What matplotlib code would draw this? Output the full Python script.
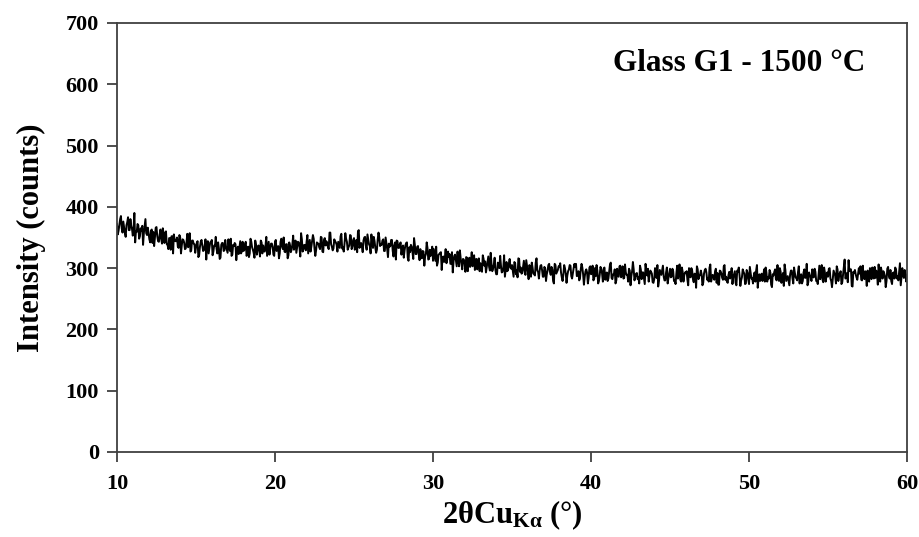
import numpy as np
import matplotlib
matplotlib.use("Agg")
import matplotlib.pyplot as plt

# 2-theta grid: whole tenths and the half steps between them
two_theta_a = np.round(np.arange(10.0, 60.05, 0.1), 2)
two_theta_b = np.round(np.arange(10.05, 60.0, 0.1), 2)

# counts at 10.0, 10.1, ... 60.0 (one row per degree)
counts_a = [
    372, 361, 380, 365, 376, 357, 370, 383, 362, 369,
    353, 390, 360, 372, 348, 365, 369, 357, 380, 354,
    356, 342, 363, 359, 350, 367, 344, 355, 347, 365,
    341, 360, 338, 349, 330, 352, 355, 344, 350, 333,
    350, 337, 346, 331, 342, 334, 357, 329, 345, 339,
    334, 344, 321, 343, 337, 329, 347, 340, 324, 342,
    346, 327, 336, 332, 342, 315, 338, 341, 329, 335,
    325, 334, 348, 322, 336, 339, 329, 323, 344, 327,
    328, 339, 320, 335, 324, 343, 330, 317, 338, 331,
    331, 345, 324, 328, 337, 320, 343, 332, 340, 322,
    343, 328, 336, 324, 348, 331, 327, 339, 316, 342,
    326, 339, 330, 345, 334, 342, 319, 347, 331, 337,
    343, 324, 346, 335, 354, 332, 329, 340, 334, 351,
    327, 346, 337, 341, 331, 358, 335, 332, 344, 338,
    343, 333, 356, 334, 340, 348, 330, 337, 353, 335,
    349, 340, 326, 362, 338, 335, 345, 351, 330, 347,
    336, 355, 333, 344, 325, 347, 350, 339, 345, 328,
    350, 331, 340, 336, 346, 319, 342, 345, 333, 339,
    322, 337, 329, 341, 317, 334, 338, 326, 349, 323,
    335, 322, 331, 316, 327, 319, 342, 314, 330, 324,
    312, 321, 335, 309, 323, 326, 316, 310, 331, 314,
    318, 307, 326, 311, 322, 303, 316, 329, 308, 315,
    308, 318, 295, 317, 311, 303, 321, 314, 298, 316,
    308, 294, 315, 311, 302, 319, 296, 307, 299, 317,
    290, 309, 300, 304, 294, 321, 298, 295, 307, 301,
    305, 286, 308, 297, 316, 294, 291, 302, 296, 313,
    294, 305, 286, 301, 290, 309, 296, 283, 304, 297,
    286, 299, 290, 305, 294, 302, 279, 307, 291, 297,
    302, 293, 279, 305, 291, 288, 298, 304, 283, 300,
    302, 287, 295, 283, 307, 290, 286, 298, 275, 301,
    290, 304, 283, 287, 296, 279, 302, 291, 299, 281,
    293, 283, 306, 284, 290, 298, 280, 287, 303, 285,
    303, 284, 293, 289, 299, 272, 295, 298, 286, 292,
    285, 304, 282, 293, 274, 296, 299, 288, 294, 277,
    282, 291, 305, 279, 293, 296, 286, 280, 301, 284,
    299, 286, 295, 280, 291, 283, 306, 278, 294, 288,
    292, 281, 300, 285, 296, 277, 290, 303, 282, 289,
    290, 276, 297, 293, 284, 301, 278, 289, 281, 299,
    292, 273, 295, 284, 303, 281, 278, 289, 283, 300,
    285, 295, 272, 294, 288, 280, 298, 291, 275, 293,
    274, 293, 284, 288, 278, 305, 282, 279, 291, 285,
    278, 293, 285, 297, 273, 290, 294, 282, 305, 279,
    294, 285, 271, 297, 283, 280, 290, 296, 275, 292,
    283, 294, 275, 290, 279, 298, 285, 272, 293, 286,
    298, 285, 294, 279, 290, 282, 305, 277, 293, 287,
    286, 300, 279, 283, 292, 275, 298, 287, 295, 277,
    302, 283, 292, 313, 298, 271, 294, 297, 285, 291,
    291, 281, 304, 282, 288, 296, 278, 285, 301, 283,
    284, 290, 306, 278, 294, 295, 287, 279, 302, 283,
    279, 292, 283, 298, 287, 295, 272, 300, 284, 290,
    289,
]

# counts at the half steps 10.05, 10.15, ... 59.95
counts_b = [
    355, 371, 385, 358, 366, 351, 375, 362, 380, 364,
    365, 342, 359, 370, 352, 361, 338, 368, 357, 366,
    347, 361, 341, 336, 366, 352, 343, 363, 340, 355,
    358, 339, 331, 349, 352, 324, 346, 344, 335, 354,
    324, 347, 342, 332, 356, 337, 327, 345, 340, 325,
    341, 318, 335, 346, 328, 337, 314, 344, 333, 342,
    321, 337, 351, 324, 332, 317, 341, 328, 346, 330,
    347, 328, 320, 338, 341, 313, 335, 333, 324, 343,
    329, 343, 323, 318, 348, 334, 325, 345, 322, 337,
    319, 342, 337, 327, 351, 332, 322, 340, 335, 320,
    346, 330, 316, 343, 335, 350, 326, 339, 321, 337,
    330, 353, 336, 325, 343, 334, 357, 327, 338, 329,
    354, 335, 327, 345, 348, 320, 342, 340, 331, 350,
    326, 349, 344, 334, 358, 339, 329, 347, 342, 327,
    338, 352, 332, 327, 357, 343, 334, 354, 331, 346,
    330, 346, 360, 333, 341, 326, 350, 337, 355, 339,
    324, 343, 351, 333, 330, 358, 336, 338, 347, 328,
    341, 318, 335, 346, 328, 337, 314, 344, 333, 342,
    331, 317, 337, 342, 312, 326, 335, 315, 338, 323,
    336, 313, 318, 328, 304, 323, 333, 315, 320, 335,
    331, 312, 304, 322, 325, 297, 319, 317, 308, 327,
    323, 307, 293, 320, 312, 327, 303, 316, 298, 314,
    294, 317, 312, 302, 326, 307, 297, 315, 310, 295,
    298, 321, 304, 293, 311, 302, 325, 295, 306, 297,
    290, 306, 320, 293, 301, 286, 310, 297, 315, 299,
    296, 310, 290, 285, 315, 301, 292, 312, 289, 304,
    282, 301, 309, 291, 288, 316, 294, 296, 305, 286,
    302, 279, 296, 307, 289, 298, 275, 305, 294, 303,
    308, 285, 290, 300, 276, 295, 305, 287, 292, 307,
    307, 288, 280, 298, 301, 273, 295, 293, 284, 303,
    294, 280, 300, 305, 275, 289, 298, 278, 301, 286,
    279, 295, 309, 282, 290, 275, 299, 286, 304, 288,
    283, 306, 289, 278, 296, 287, 310, 280, 291, 282,
    275, 298, 293, 283, 307, 288, 278, 296, 291, 276,
    300, 284, 270, 297, 289, 304, 280, 293, 275, 291,
    285, 299, 279, 274, 304, 290, 281, 301, 278, 293,
    295, 272, 289, 300, 282, 291, 268, 298, 287, 296,
    272, 291, 299, 281, 278, 306, 284, 286, 295, 276,
    273, 296, 291, 281, 305, 286, 276, 294, 289, 274,
    290, 276, 296, 301, 271, 285, 294, 274, 297, 282,
    302, 283, 275, 293, 296, 268, 290, 288, 279, 298,
    301, 278, 283, 293, 269, 288, 298, 280, 285, 300,
    276, 292, 306, 279, 287, 272, 296, 283, 301, 285,
    280, 303, 286, 275, 293, 284, 307, 277, 288, 279,
    285, 299, 279, 274, 304, 290, 281, 301, 278, 293,
    299, 283, 269, 296, 288, 303, 279, 292, 274, 290,
    314, 285, 277, 295, 298, 270, 292, 290, 281, 300,
    303, 280, 285, 295, 271, 290, 300, 282, 287, 302,
    296, 273, 290, 301, 283, 292, 269, 299, 288, 297,
    274, 293, 301, 283, 280, 308, 286, 288, 297, 278,
]

x_ticks = [10, 20, 30, 40, 50, 60]
y_ticks = [0, 100, 200, 300, 400, 500, 600, 700]
title_text = "Glass G1 - 1500 °C"

plt.rcParams["font.family"] = ["Liberation Serif", "DejaVu Serif"]
plt.rcParams["font.weight"] = "bold"
plt.rcParams["mathtext.fontset"] = "custom"
plt.rcParams["mathtext.rm"] = "Liberation Serif:bold"
plt.rcParams["mathtext.bf"] = "Liberation Serif:bold"
plt.rcParams["mathtext.it"] = "Liberation Serif:bold"

# interleave the two sets into one trace
x = np.empty(len(two_theta_a) + len(two_theta_b))
y = np.empty_like(x)
x[0::2], x[1::2] = two_theta_a, two_theta_b
y[0::2], y[1::2] = counts_a, counts_b

fig = plt.figure(figsize=(9.19, 5.37), dpi=100)
ax = fig.add_axes([0.1273, 0.1583, 0.8597, 0.7989])

ax.plot(x, y, color="black", lw=1.4)

ax.set_xlim(10, 60)
ax.set_ylim(0, 700)
ax.set_xticks(x_ticks)
ax.set_yticks(y_ticks)

for s in ax.spines.values():
    s.set_color("#404040")
    s.set_linewidth(1.3)
ax.tick_params(direction="out", length=7, width=1.3, color="#404040",
               labelsize=16, pad=6)
ax.tick_params(axis="x", pad=9)
for lab in ax.get_xticklabels() + ax.get_yticklabels():
    lab.set_fontweight("bold")

ax.set_xlabel(r"2θCu$_{\mathbf{Kα}}$ (°)", fontsize=22, fontweight="bold", labelpad=3)
ax.set_ylabel("Intensity (counts)", fontsize=22, fontweight="bold", labelpad=14)

ax.text(0.947, 0.905, title_text, transform=ax.transAxes, ha="right", va="center",
        fontsize=22.5, fontweight="bold")

fig.savefig("out.png", dpi=100)
